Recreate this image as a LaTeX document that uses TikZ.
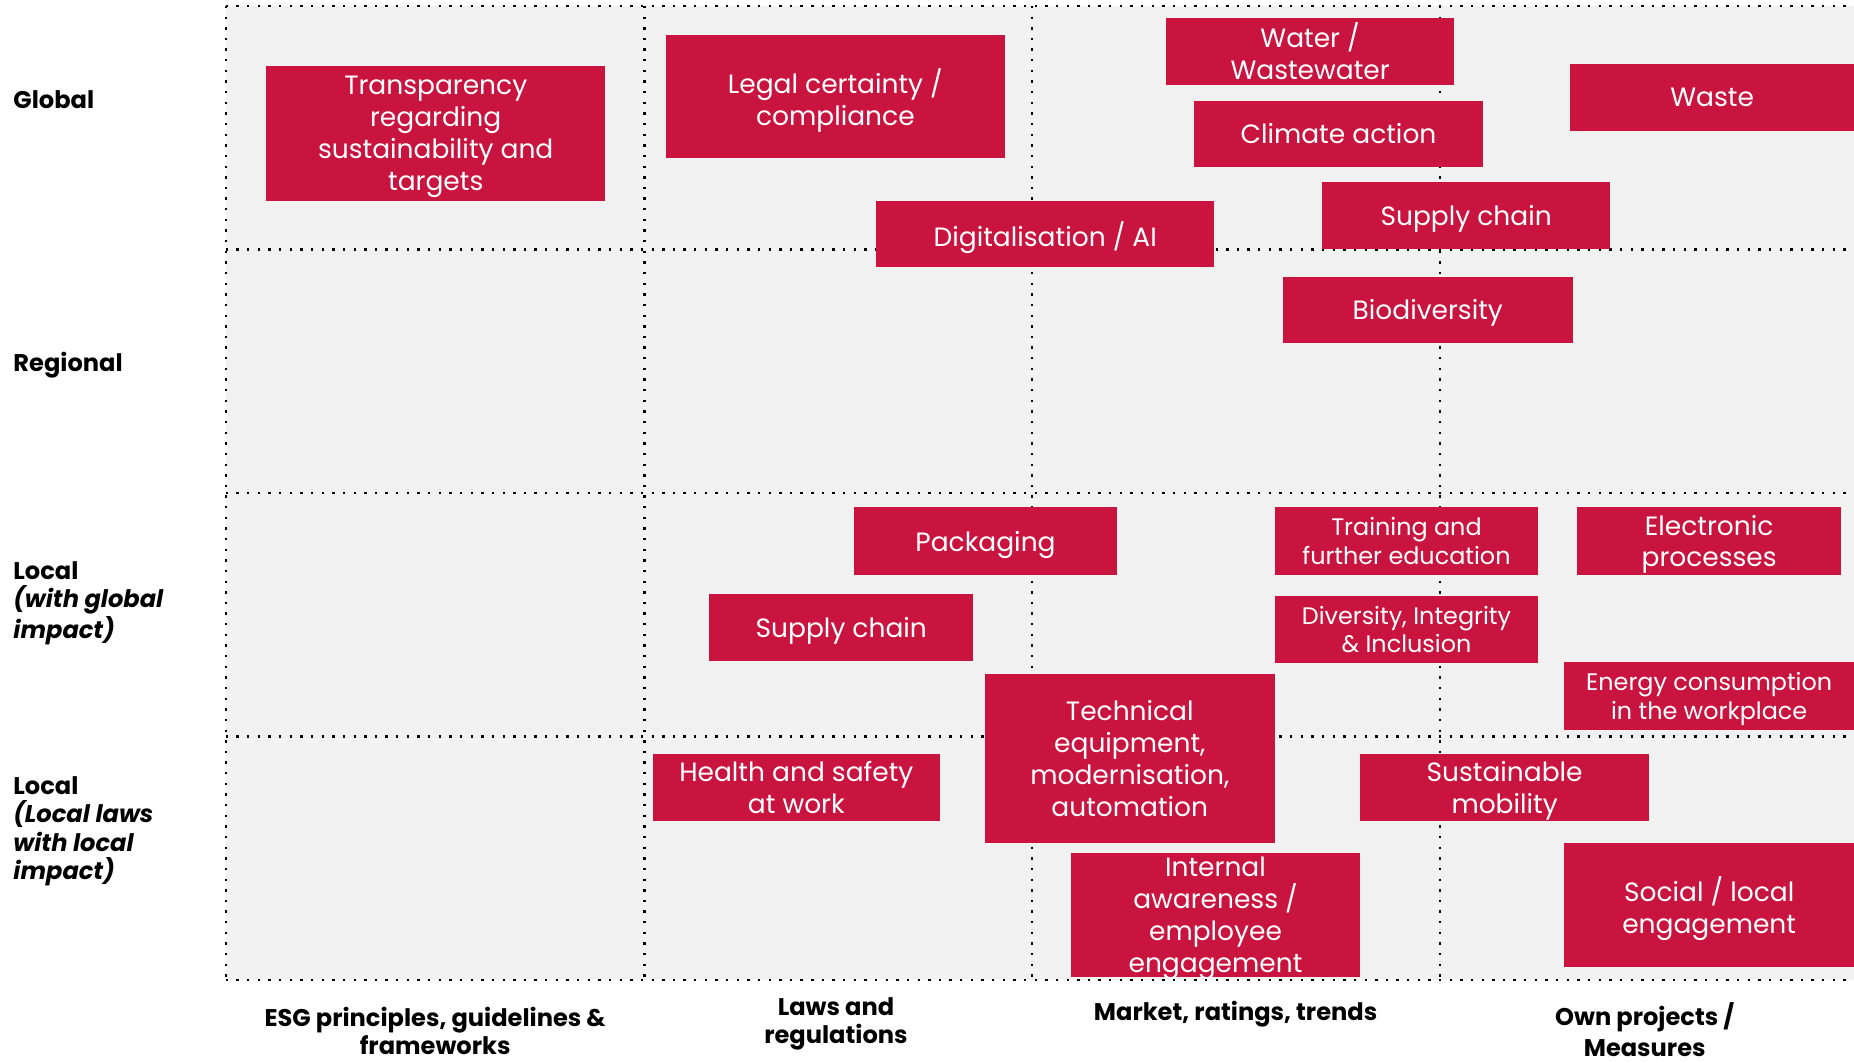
\documentclass[tikz,border=0pt]{standalone}
\usepackage{fontspec}
\setmainfont{Poppins}
\usetikzlibrary{positioning}
\definecolor{esgred}{HTML}{C8143F}
\definecolor{cellgrey}{HTML}{F1F1F1}

\begin{document}
\begin{tikzpicture}[x=0.5pt, y=-0.5pt,
  topic/.style={fill=esgred, text=white, inner sep=0pt, align=center,
    text depth=0pt, font=\fontsize{11.2}{13.5}\selectfont},
  smalltopic/.style={topic, font=\fontsize{10.1}{12}\selectfont},
  boxsize/.style 2 args={minimum width=#1pt, minimum height=#2pt},
  rowlabel/.style={anchor=west, align=left, inner sep=0pt,
    font=\bfseries\fontsize{10.2}{12}\selectfont},
  collabel/.style={align=center, inner sep=0pt,
    font=\bfseries\fontsize{10.2}{12}\selectfont},
  gridline/.style={line width=1pt, dash pattern=on 1pt off 3.5pt}]

  \useasboundingbox (0,0) rectangle (1568,899);

  % Grid background
  \fill[cellgrey] (191,5) rectangle (1568,829);
  \foreach \y in {5,211,417,623,829}
    \draw[gridline] (191,\y) -- (1568,\y);
  \foreach \x in {191,545,873,1218}
    \draw[gridline] (\x,5) -- (\x,829);

  % Rows
  \node[rowlabel] (global) at (11,84) {Global};
  \node[rowlabel] (regional) at (11,309) {Regional};
  \node[rowlabel] (localglobal) at (11,510) {Local\\\textit{(with global}\\\textit{impact)}};
  \node[rowlabel] (locallocal) at (11,703) {Local\\\textit{(Local laws}\\\textit{with local}\\\textit{impact)}};

  % Columns
  \node[collabel] (esg) at (368,872) {ESG principles, guidelines \&\\frameworks};
  \node[collabel] (laws) at (707,866) {Laws and\\regulations};
  \node[collabel] (market) at (1045,858) {Market, ratings, trends};
  \node[collabel] (own) at (1391,871) {Own projects /\\[1pt]Measures};

  % Topics: global
  \node[topic, boxsize={143.5}{57}] (transparency) at (368.5,113) {Transparency\\regarding\\sustainability and\\targets};
  \node[topic, boxsize={143.5}{52}] (legal) at (706.5,82) {Legal certainty /\\compliance};
  \node[topic, boxsize={122}{28.5}] (water) at (1108,43.5) {Water /\\Wastewater};
  \node[topic, boxsize={122}{28}] (climate) at (1132,113) {Climate action};
  \node[topic, boxsize={120}{28.5}] (waste) at (1448,82.5) {Waste};
  \node[topic, boxsize={143}{28}] (digital) at (884,198) {Digitalisation / AI};
  \node[topic, boxsize={122}{28.5}] (supplytop) at (1240,182.5) {Supply chain};

  % Topics: regional
  \node[topic, boxsize={122.5}{28}] (biodiversity) at (1207.5,262) {Biodiversity};

  % Topics: local with global impact
  \node[topic, boxsize={111.5}{28.5}] (packaging) at (833.5,457.5) {Packaging};
  \node[topic, boxsize={111.5}{28.5}] (supplylocal) at (711.5,530.5) {Supply chain};
  \node[smalltopic, boxsize={111.5}{28.5}] (training) at (1189.5,457.5) {Training and\\further education};
  \node[topic, boxsize={111.5}{28.5}] (electronic) at (1445.5,457.5) {Electronic\\processes};
  \node[smalltopic, boxsize={111.5}{28.5}] (diversity) at (1189.5,532.5) {Diversity, Integrity\\\& Inclusion};
  \node[smalltopic, boxsize={122.5}{28.5}] (energy) at (1445.5,588.5) {Energy consumption\\in the workplace};
  \node[topic, boxsize={122.5}{71.5}] (technical) at (955.5,641.5) {Technical\\equipment,\\modernisation,\\automation};

  % Topics: local with local impact
  \node[topic, boxsize={121.5}{28}] (health) at (673.5,666) {Health and safety\\at work};
  \node[topic, boxsize={122.5}{28}] (mobility) at (1272.5,666) {Sustainable\\mobility};
  \node[topic, boxsize={122}{52.5}] (internal) at (1028,773.5) {Internal\\awareness /\\employee\\engagement};
  \node[topic, boxsize={122.5}{52.5}] (social) at (1445.5,765.5) {Social / local\\engagement};

\end{tikzpicture}
\end{document}
